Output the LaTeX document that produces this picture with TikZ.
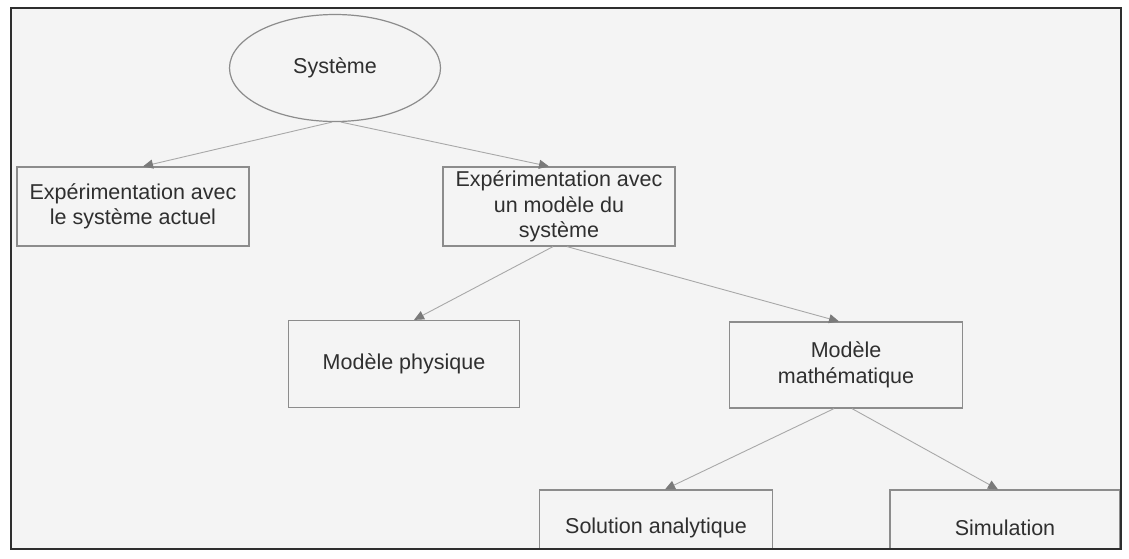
\documentclass[tikz,border=0pt]{standalone}
\usepackage{fontspec}
\setmainfont{Liberation Sans}
\usetikzlibrary{shapes.geometric,arrows.meta}
\definecolor{paper}{HTML}{F4F4F4}
\definecolor{framecol}{HTML}{2E2E2E}
\definecolor{boxline}{HTML}{8C8C8C}
\definecolor{linkcol}{HTML}{A8A8A8}
\definecolor{tipcol}{HTML}{7A7A7A}
\definecolor{ink}{HTML}{2F2F2F}

\begin{document}
\begin{tikzpicture}[x=1pt,y=-1pt,
  lbl/.style={text=ink, align=center, font=\fontsize{21.5}{25.5}\selectfont},
  box/.style={lbl, draw=boxline, line width=1.2pt, fill=paper,
              minimum width=232pt, minimum height=79pt, inner sep=2pt},
  link/.style={draw=linkcol, line width=0.9pt,
               -{Triangle[length=10pt,width=9pt,fill=tipcol,color=tipcol]}},
]
\useasboundingbox (0,0) rectangle (1129,558);
\fill[white] (0,0) rectangle (1129,558);
\fill[paper] (11,8) rectangle (1121,549);

\begin{scope}
\clip (11,8) rectangle (1121,549);

% root of the tree
\node[lbl, ellipse, draw=boxline, line width=1.2pt, fill=paper,
      minimum width=211pt, minimum height=107pt] (sys) at (335,68) {Système};

% first level
\node[box] (actuel) at (133,206.5) {Expérimentation avec\\le système actuel};
\node[box] (modele) at (559,206.5) {Expérimentation avec\\un modèle du\\système};

% second level
\node[box, minimum width=231pt, minimum height=87pt] (phys) at (404,364) {Modèle physique};
\node[box, minimum width=233pt, minimum height=86pt] (math) at (846,365) {Modèle\\mathématique};

% third level (runs past the lower edge of the frame)
\node[box, minimum width=233pt, minimum height=76pt] (anal) at (656,528) {Solution analytique};
\node[box, minimum width=230pt, minimum height=76pt] (simu) at (1005,528) {Simulation};

% connectors
\draw[link] ([xshift=-3pt]sys.south) -- ([xshift=10pt]actuel.north);
\draw[link] ([xshift=6pt]sys.south) -- ([xshift=-10pt]modele.north);
\draw[link] ([xshift=-6pt]modele.south) -- ([xshift=10pt]phys.north);
\draw[link] ([xshift=8pt]modele.south) -- ([xshift=-7pt]math.north);
\draw[link] ([xshift=-12pt]math.south) -- ([xshift=9pt]anal.north);
\draw[link] ([xshift=6pt]math.south) -- ([xshift=-7pt]simu.north);
\end{scope}

% outer frame
\draw[framecol, line width=2.6pt] (11,8) rectangle (1121,549);
\end{tikzpicture}
\end{document}
